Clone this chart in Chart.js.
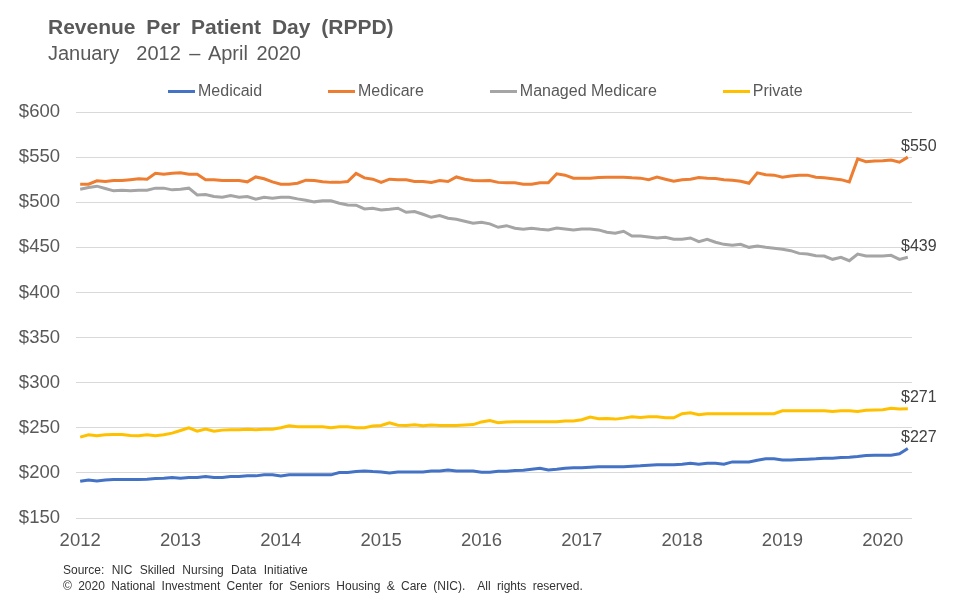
<!DOCTYPE html>
<html>
<head>
<meta charset="utf-8">
<script src="https://cdn.jsdelivr.net/npm/chart.js@4.4.1/dist/chart.umd.min.js"></script>
<style>
  body { margin: 0; background: #fff; font-family: 'Liberation Sans', Arial, sans-serif; }
  #wrap { position: relative; width: 955px; height: 611px; }
  .head { position: absolute; left: 48px; color: #595959; white-space: nowrap; line-height: 24px; }
  #title { top: 15px; font-size: 21px; font-weight: bold; word-spacing: 5px; }
  #subtitle { top: 41px; font-size: 20px; word-spacing: 3px; }
  #legend { position: absolute; left: 168px; top: 81px; display: flex; gap: 66px; font-size: 16px; color: #595959; line-height: 20px; }
  #legend .item { display: flex; align-items: center; }
  #legend .swatch { width: 27px; height: 3px; margin-right: 3px; }
  .foot { position: absolute; left: 63px; font-size: 12px; color: #333; white-space: nowrap; }
</style>
</head>
<body>
<div id="wrap">
  <canvas id="rppd"></canvas>
  <div class="head" id="title">Revenue Per Patient Day (RPPD)</div>
  <div class="head" id="subtitle">January&nbsp; 2012 – April 2020</div>
  <div id="legend"></div>
  <div class="foot" style="top:563px; word-spacing:4px">Source: NIC Skilled Nursing Data Initiative</div>
  <div class="foot" style="top:579px; word-spacing:3px">© 2020 National Investment Center for Seniors Housing &amp; Care (NIC).&nbsp; All rights reserved.</div>
</div>
<script>
// months Jan 2012 .. Apr 2020
const monthNames = ['Jan', 'Feb', 'Mar', 'Apr', 'May', 'Jun', 'Jul', 'Aug', 'Sep', 'Oct', 'Nov', 'Dec'];
const years = [2012, 2013, 2014, 2015, 2016, 2017, 2018, 2019, 2020];
const lastMonth = 'Apr 2020';

const seriesNames = ['Medicaid', 'Medicare', 'Managed Medicare', 'Private'];
const seriesColors = ['#4472C4', '#ED7D31', '#A5A5A5', '#FFC000'];

const medicaid = [
    190.7, 192.2, 191.1, 192.2, 192.6, 192.6, 192.6, 192.6, 193, 193.7, 194.1, 194.8,
    194.1, 194.8, 194.8, 195.9, 194.8, 194.8, 195.9, 195.9, 196.7, 196.7, 197.8, 197.8,
    196.7, 197.8, 197.8, 197.8, 197.8, 197.8, 197.8, 200.4, 200.4, 201.5, 202.2, 201.5,
    201.1, 200, 201.1, 201.1, 201.1, 201.1, 202.2, 202.2, 203.3, 202.2, 202.2, 202.2,
    200.7, 200.7, 201.9, 201.9, 202.6, 203, 204.1, 205.2, 203.3, 204.1, 205.2, 205.6,
    205.6, 206.3, 206.7, 206.7, 206.7, 206.7, 207.4, 207.8, 208.5, 208.9, 208.9, 208.9,
    209.6, 210.7, 209.6, 210.7, 210.7, 209.6, 212.2, 212.2, 212.2, 214.1, 215.6, 215.6,
    214.4, 214.4, 214.8, 215.2, 215.6, 216.3, 216.3, 217, 217.4, 218.1, 219.3, 219.6,
    219.6, 219.6, 221.1, 227
];
const medicare = [
    520, 520, 523.7, 523, 524, 524, 525, 526, 525.5, 532, 531, 532,
    532.6, 531, 531, 525, 525, 524, 524, 524, 522.6, 528, 526, 522.6,
    520, 520, 521, 524.4, 524, 522.6, 522, 522, 523, 532, 527, 525.5,
    522, 525.5, 525, 525, 523, 523, 522, 524, 523, 528, 525.5, 524,
    523.7, 524, 522, 521.5, 521.5, 520, 520, 521.5, 521.5, 531.5, 530, 526.7,
    526.7, 526.7, 527.4, 527.8, 527.8, 527.8, 527, 526.7, 525, 527.8, 525.5, 523.3,
    525, 525.5, 527.4, 526.7, 526.3, 525, 524.4, 523.3, 521, 532.6, 530.4, 530,
    527.8, 529, 530, 530, 527.8, 527, 526, 525, 522.6, 548, 545, 545.6,
    546, 546.7, 544.4, 550
];
const managedMedicare = [
    514.4, 516.3, 517.8, 515.2, 512.6, 513.3, 512.6, 513.3, 513.3, 515.6, 515.6, 513.7,
    514.4, 515.6, 508.1, 508.5, 506.3, 505.6, 507.4, 505.6, 506.3, 503.3, 505.6, 504.4,
    505.6, 505.6, 503.7, 502.2, 500.4, 501.5, 501.5, 498.9, 497, 496.7, 492.6, 493.3,
    491.5, 492.2, 493.3, 488.9, 489.6, 486.7, 483.3, 485.2, 482.2, 481.1, 478.9, 476.7,
    477.8, 476, 472.2, 474, 471.1, 470, 471.1, 470, 469.3, 471.5, 470.4, 469.3,
    470.4, 470.4, 469.3, 466.7, 465.6, 467.8, 462.6, 462.6, 461.5, 460.4, 461.1, 458.9,
    458.9, 460.4, 456.3, 458.9, 455.6, 453.3, 452.2, 453.3, 450, 451.5, 450, 448.9,
    447.8, 446.3, 443.3, 442.6, 440.7, 440.4, 436.7, 438.9, 435.2, 442.6, 440.4, 440.4,
    440.4, 441.1, 436.7, 439
];
const privatePay = [
    239.6, 242.2, 241.1, 242.2, 242.6, 242.6, 241.5, 241.1, 242.2, 241.1, 242.2, 244.1,
    247, 250, 246.3, 248.5, 246.3, 247.4, 247.8, 247.8, 248.5, 247.8, 248.5, 248.5,
    250, 252.2, 251.1, 251.1, 251.1, 251.1, 250, 251.1, 251.1, 250, 250, 251.9,
    252.5, 255.6, 252.8, 252.6, 253.3, 252.2, 253, 252.6, 252.6, 252.6, 253, 253.5,
    256.5, 258, 255.6, 256.3, 256.7, 256.7, 256.7, 256.7, 256.7, 256.7, 257.4, 257.4,
    258.9, 261.9, 260, 260.4, 259.6, 260.7, 262.2, 261.5, 262.2, 262.2, 261.1, 261.1,
    265.6, 266.7, 264.4, 265.6, 265.6, 265.6, 265.6, 265.6, 265.6, 265.6, 265.6, 265.6,
    268.9, 268.9, 268.9, 268.9, 268.9, 268.9, 268.1, 268.9, 268.9, 268.1, 269.3, 269.6,
    270, 271.5, 270.7, 271
];

const yTicks = { min: 150, max: 600, step: 50 };

const labels = [];
for (const y of years) {
    for (const m of monthNames) {
        labels.push(m + ' ' + y);
        if (m + ' ' + y === lastMonth) break;
    }
}

const seriesData = [medicaid, medicare, managedMedicare, privatePay];

// html legend
const legendEl = document.getElementById('legend');
seriesNames.forEach((name, i) => {
    const item = document.createElement('div');
    item.className = 'item';
    item.innerHTML = '<span class="swatch" style="background:' + seriesColors[i] + '"></span><span>' + name + '</span>';
    legendEl.appendChild(item);
});

// value labels at the end of each line
const endLabels = {
    id: 'endLabels',
    afterDatasetsDraw(chart) {
        const ctx = chart.ctx;
        ctx.save();
        ctx.font = '16px "Liberation Sans", Arial, sans-serif';
        ctx.fillStyle = '#404040';
        ctx.textAlign = 'center';
        ctx.textBaseline = 'middle';
        chart.data.datasets.forEach((ds, i) => {
            const pts = chart.getDatasetMeta(i).data;
            const last = pts[pts.length - 1];
            ctx.fillText('$' + Math.round(ds.data[ds.data.length - 1]), last.x + 11, last.y - 11);
        });
        ctx.restore();
    }
};

Chart.defaults.font.family = '"Liberation Sans", Arial, sans-serif';
Chart.defaults.color = '#595959';

const ctx = document.getElementById('rppd').getContext('2d');
const rppdChart = new Chart(ctx, {
    type: 'line',
    data: {
        labels: labels,
        datasets: seriesNames.map((name, i) => ({
            label: name,
            data: seriesData[i],
            borderColor: seriesColors[i],
            backgroundColor: seriesColors[i],
            borderWidth: 3,
            pointRadius: 0,
            tension: 0,
            fill: false
        }))
    },
    options: {
        responsive: true,
        maintainAspectRatio: false,
        animation: false,
        layout: {
            padding: { left: 10, right: 43, top: 112, bottom: 59 }
        },
        plugins: {
            legend: { display: false },
            tooltip: { enabled: false }
        },
        scales: {
            x: {
                type: 'category',
                offset: true,
                afterFit: (scale) => { scale.height = 34; },
                grid: { display: false, drawTicks: false },
                border: { display: false },
                ticks: {
                    autoSkip: false,
                    maxRotation: 0,
                    padding: 12,
                    font: { size: 18.5 },
                    color: '#595959',
                    callback: function (value) {
                        const l = this.getLabelForValue(value);
                        return l.startsWith('Jan') ? l.slice(4) : '';
                    }
                }
            },
            y: {
                min: yTicks.min,
                max: yTicks.max,
                afterFit: (scale) => { scale.width = 66; },
                grid: { color: '#D9D9D9', lineWidth: 1, drawTicks: false },
                border: { display: false },
                ticks: {
                    stepSize: yTicks.step,
                    padding: 16,
                    font: { size: 18.5 },
                    color: '#595959',
                    callback: (v) => '$' + v
                }
            }
        }
    },
    plugins: [endLabels]
});
</script>
</body>
</html>
